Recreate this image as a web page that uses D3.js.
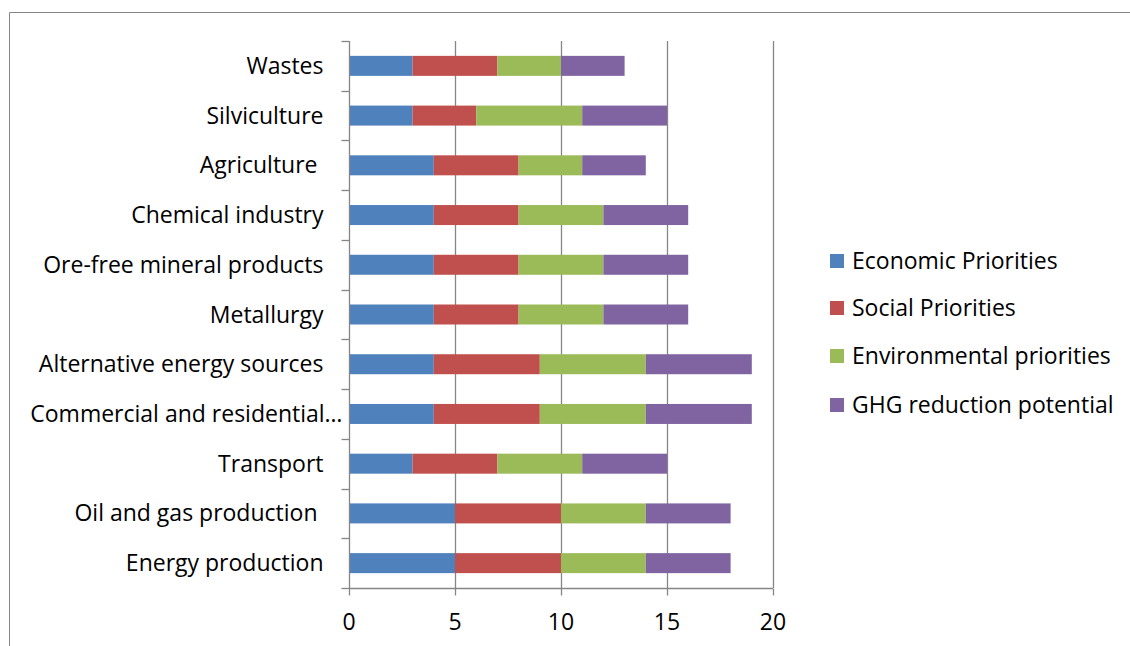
<!DOCTYPE html>
<html><head><meta charset="utf-8">
<script src="https://cdn.jsdelivr.net/npm/d3@7/dist/d3.min.js"></script>
<style>body{margin:0;background:#fff;} svg{display:block;}</style>
</head><body>
<svg id="c" width="1130" height="646"></svg>
<script>
const categories = ["Wastes","Silviculture","Agriculture ","Chemical industry","Ore-free mineral products","Metallurgy","Alternative energy sources","Commercial and residential…","Transport","Oil and gas production ","Energy production"];
const seriesNames = ["Economic Priorities","Social Priorities","Environmental priorities","GHG reduction potential"];
const economic = [3,3,4,4,4,4,4,4,3,5,5];
const social = [4,3,4,4,4,4,5,5,4,5,5];
const environmental = [3,5,3,4,4,4,5,5,4,4,4];
const ghg = [3,4,3,4,4,4,5,5,4,4,4];
const xTicks = [0,5,10,15,20];
const colors = ["#4F81BD","#C0504D","#9BBB59","#8064A2"];

const svg = d3.select("#c");
const font = "'Open Sans', sans-serif";
const fs = 23;
// outer border
svg.append("path").attr("d","M9.5,646 L9.5,12.5 L1130,12.5").attr("fill","none").attr("stroke","#868686").attr("stroke-width",1);

const x = d3.scaleLinear().domain([0,20]).range([349,773]);
const band = d3.scaleBand().domain(categories).range([41,588]);

// gridlines
svg.append("g").selectAll("line").data(xTicks.slice(1)).join("line")
  .attr("x1",d=>Math.round(x(d))+0.5).attr("x2",d=>Math.round(x(d))+0.5)
  .attr("y1",41).attr("y2",588).attr("stroke","#868686").attr("stroke-width",1.3);

const data = categories.map((c,i)=>({cat:c, vals:[economic[i],social[i],environmental[i],ghg[i]]}));
const stack = d3.stack().keys([0,1,2,3]).value((d,k)=>d.vals[k])(data);

svg.append("g").selectAll("g").data(stack).join("g").attr("fill",(d,i)=>colors[i])
  .selectAll("rect").data(d=>d).join("rect")
  .attr("x",d=>x(d[0])).attr("width",d=>x(d[1])-x(d[0]))
  .attr("y",d=>band(d.data.cat)+band.bandwidth()/2-10).attr("height",20);

// y axis
const yAxis = svg.append("g").attr("transform","translate(349.5,0)");
yAxis.append("line").attr("y1",41).attr("y2",588).attr("stroke","#868686").attr("stroke-width",1.3);
const bounds = d3.range(categories.length+1).map(i=>41+i*band.step());
yAxis.selectAll("line.t").data(bounds).join("line").attr("class","t")
  .attr("x1",-8).attr("x2",0).attr("y1",d=>Math.round(d)+0.5).attr("y2",d=>Math.round(d)+0.5)
  .attr("stroke","#868686").attr("stroke-width",1.3);
yAxis.selectAll("text").data(categories).join("text")
  .attr("x",d=>d.endsWith("…")?-7:-26).attr("y",d=>band(d)+band.bandwidth()/2).attr("dy","0.35em")
  .attr("text-anchor","end").attr("font-family",font).attr("font-size",fs).attr("fill","#000")
  .attr("xml:space","preserve").text(d=>d);

// x axis
const xAxis = svg.append("g").attr("transform","translate(0,588.5)");
xAxis.append("line").attr("x1",349).attr("x2",773).attr("stroke","#868686").attr("stroke-width",1.3);
xAxis.selectAll("line.t").data(xTicks).join("line").attr("class","t")
  .attr("x1",d=>Math.round(x(d))+0.5).attr("x2",d=>Math.round(x(d))+0.5).attr("y1",0).attr("y2",7)
  .attr("stroke","#868686").attr("stroke-width",1.3);
xAxis.selectAll("text").data(xTicks).join("text")
  .attr("x",d=>x(d)).attr("y",33).attr("dy","0.35em").attr("text-anchor","middle")
  .attr("font-family",font).attr("font-size",fs).attr("fill","#000").text(d=>d);

// legend
const leg = svg.append("g");
const legY = [261,308,356,405];
seriesNames.forEach((n,i)=>{
  leg.append("rect").attr("x",830).attr("y",legY[i]-7).attr("width",14).attr("height",14).attr("fill",colors[i]);
  leg.append("text").attr("x",852).attr("y",legY[i]).attr("dy","0.35em").attr("font-family",font)
    .attr("font-size",fs).attr("fill","#000").text(n);
});
</script>
</body></html>
